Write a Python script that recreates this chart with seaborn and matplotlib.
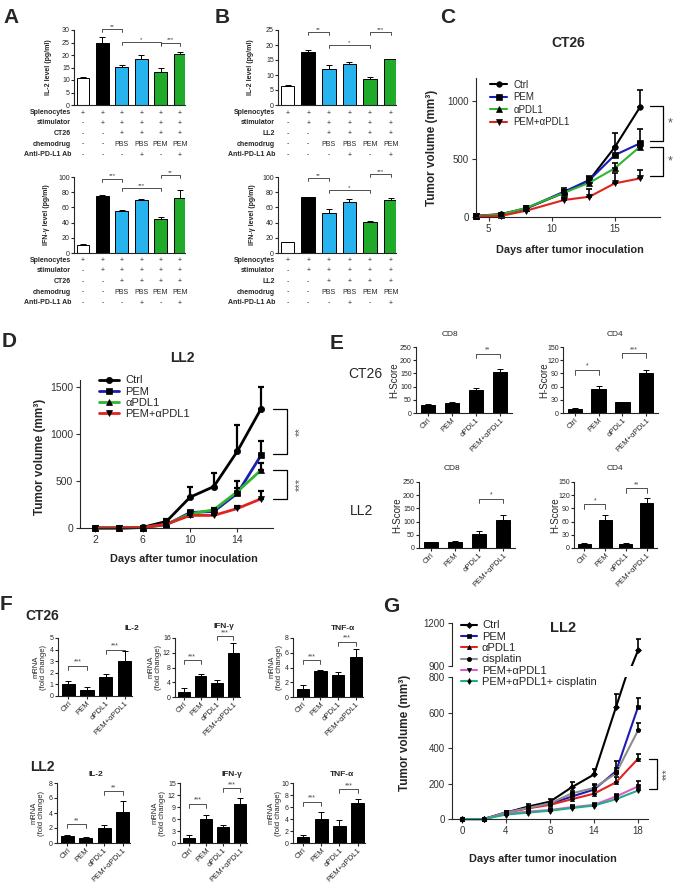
import numpy as np
import matplotlib
matplotlib.use("Agg")
import matplotlib.pyplot as plt
import matplotlib.transforms as mtransforms
import seaborn as sns

sns.set_style("ticks")
plt.rcParams["font.family"] = ["Liberation Sans", "DejaVu Sans"]
plt.rcParams["axes.linewidth"] = 0.8
plt.rcParams["xtick.major.width"] = 0.8
plt.rcParams["ytick.major.width"] = 0.8
plt.rcParams["xtick.major.size"] = 2
plt.rcParams["ytick.major.size"] = 2

# ---------------- data ----------------
# A / B : cytokine release (ELISA), six culture conditions
elisa_groups = ["naive", "stim", "tumor+PBS", "tumor+PBS+aPDL1", "tumor+PEM", "tumor+PEM+aPDL1"]
elisa_colors = ["white", "black", "#27b4ee", "#27b4ee", "#1faa2a", "#1faa2a"]
a_il2 = [10.7, 25.0, 15.4, 18.4, 13.4, 20.6]
a_il2_err = [0.4, 2.1, 0.6, 1.8, 1.4, 0.7]
a_ifn = [11.0, 74.8, 55.0, 69.5, 45.0, 73.0]
a_ifn_err = [0.5, 2.0, 1.5, 2.0, 1.8, 10.5]
b_il2 = [6.3, 17.8, 12.0, 13.7, 8.7, 15.2]
b_il2_err = [0.4, 0.5, 1.4, 0.6, 0.5, 0.3]
b_ifn = [14.0, 73.5, 52.2, 67.7, 40.3, 69.9]
b_ifn_err = [0.5, 0.8, 5.3, 4.0, 1.3, 2.7]

rows_ct26 = ["Splenocytes", "stimulator", "CT26", "chemodrug", "Anti-PD-L1 Ab"]
rows_ll2 = ["Splenocytes", "stimulator", "LL2", "chemodrug", "Anti-PD-L1 Ab"]
table_marks = [
    ["+", "+", "+", "+", "+", "+"],
    ["-", "+", "+", "+", "+", "+"],
    ["-", "-", "+", "+", "+", "+"],
    ["-", "-", "PBS", "PBS", "PEM", "PEM"],
    ["-", "-", "-", "+", "-", "+"],
]

# significance: (bar i, bar j, height, label)
a_il2_sig = [(1, 2, 30.3, "**"), (2, 4, 25.3, "*"), (4, 5, 25.0, "***")]
a_ifn_sig = [(1, 2, 98, "***"), (2, 4, 86, "***"), (4, 5, 103, "**")]
b_il2_sig = [(1, 2, 24.4, "**"), (2, 4, 20.1, "*"), (4, 5, 24.4, "***")]
b_ifn_sig = [(1, 2, 98.7, "**"), (2, 4, 82.3, "*"), (4, 5, 104, "***")]

# C : CT26 tumor growth
c_days = [4, 6, 8, 11, 13, 15, 17]
c_names = ["Ctrl", "PEM", "\u03b1PDL1", "PEM+\u03b1PDL1"]
c_vals = [[9, 26, 75, 210, 319, 601, 946],
          [9, 20, 75, 220, 319, 534, 635],
          [9, 22, 80, 210, 296, 420, 606],
          [5, 9, 55, 147, 175, 290, 333]]
c_errs = [[5, 10, 15, 25, 30, 126, 154],
          [5, 8, 15, 30, 35, 60, 121],
          [5, 8, 12, 20, 25, 48, 40],
          [3, 5, 10, 15, 64, 86, 72]]
c_sig = [(957, 658, "*"), (606, 353, "*")]

# D : LL2 tumor growth
d_days = [2, 4, 6, 8, 10, 12, 14, 16]
d_vals = [[0, 0, 7, 70, 328, 441, 819, 1271],
          [0, 0, 5, 35, 165, 176, 370, 776],
          [0, 0, 5, 40, 151, 194, 388, 618],
          [0, 0, 5, 40, 134, 134, 208, 311]]
d_errs = [[0, 0, 5, 30, 113, 148, 275, 229],
          [0, 0, 3, 10, 20, 30, 131, 149],
          [0, 0, 3, 10, 15, 20, 40, 71],
          [0, 0, 3, 10, 15, 15, 30, 78]]
d_sig = [(1271, 784, "**"), (618, 311, "***")]

# E : IHC H-score
treat = ["Ctrl", "PEM", "\u03b1PDL1", "PEM+\u03b1PDL1"]
e_ct26_cd8 = [29, 38, 86, 154]
e_ct26_cd8_err = [5, 5, 10, 14]
e_ct26_cd4 = [9, 55, 24, 92]
e_ct26_cd4_err = [2, 6, 2, 5]
e_ll2_cd8 = [23, 23, 54, 105]
e_ll2_cd8_err = [1, 2, 10, 19]
e_ll2_cd4 = [10, 64, 10, 102]
e_ll2_cd4_err = [1, 10, 1, 11]
e_ct26_cd8_sig = [(2, 3, 225, "**")]
e_ct26_cd4_sig = [(0, 1, 98, "*"), (2, 3, 136, "***")]
e_ll2_cd8_sig = [(2, 3, 187, "*")]
e_ll2_cd4_sig = [(0, 1, 99, "*"), (2, 3, 136, "**")]

# F : qPCR fold change
f_ct26_il2 = [1.0, 0.55, 1.68, 2.98]
f_ct26_il2_err = [0.3, 0.25, 0.2, 0.86]
f_ct26_ifn = [1.4, 5.7, 3.7, 11.9]
f_ct26_ifn_err = [1.0, 0.6, 1.0, 2.7]
f_ct26_tnf = [1.1, 3.55, 2.95, 5.45]
f_ct26_tnf_err = [0.55, 0.1, 0.5, 1.1]
f_ll2_il2 = [1.0, 0.68, 2.0, 4.2]
f_ll2_il2_err = [0.07, 0.12, 0.44, 1.4]
f_ll2_ifn = [1.2, 6.0, 4.0, 9.8]
f_ll2_ifn_err = [0.9, 1.1, 0.6, 1.45]
f_ll2_tnf = [1.0, 4.0, 2.9, 6.7]
f_ll2_tnf_err = [0.4, 1.1, 1.0, 0.7]
f_ct26_il2_sig = [(0, 1, 2.6, "***"), (2, 3, 4.0, "***")]
f_ct26_ifn_sig = [(0, 1, 10.0, "***"), (2, 3, 16.5, "***")]
f_ct26_tnf_sig = [(0, 1, 5.0, "***"), (2, 3, 7.5, "***")]
f_ll2_il2_sig = [(0, 1, 2.5, "**"), (2, 3, 6.9, "**")]
f_ll2_ifn_sig = [(0, 1, 9.8, "***"), (2, 3, 13.75, "***")]
f_ll2_tnf_sig = [(0, 1, 6.9, "***"), (2, 3, 9.0, "***")]

# G : LL2 growth with cisplatin
g_days = [0, 2, 4, 6, 8, 11, 14, 16, 18]
g_names = ["Ctrl", "PEM", "\u03b1PDL1", "cisplatin", "PEM+\u03b1PDL1", "PEM+\u03b1PDL1+ cisplatin"]
g_vals = [[0, 0, 36, 70, 98, 180, 251, 632, 1010],
          [0, 0, 38, 62, 86, 127, 166, 270, 632],
          [0, 0, 35, 60, 80, 112, 143, 207, 340],
          [0, 0, 36, 62, 88, 145, 175, 258, 500],
          [0, 0, 30, 42, 51, 67, 80, 127, 184],
          [0, 0, 25, 36, 47, 62, 76, 112, 161]]
g_errs = [[0, 0, 10, 12, 15, 30, 30, 70, 80],
          [0, 0, 8, 10, 12, 20, 25, 55, 50],
          [0, 0, 6, 8, 10, 18, 20, 30, 28],
          [0, 0, 6, 8, 10, 15, 20, 30, 40],
          [0, 0, 5, 6, 8, 10, 10, 15, 33],
          [0, 0, 4, 5, 6, 8, 8, 10, 15]]
g_sig = [(337, 170, "***")]

# ---------------- helpers ----------------
W, H = 676, 892
fig = plt.figure(figsize=(W / 100, H / 100), dpi=100)


def box(x0, y0, x1, y1):
    return fig.add_axes([x0 / W, 1 - y1 / H, (x1 - x0) / W, (y1 - y0) / H])


def ftext(px, py, s, **kw):
    return fig.text(px / W, 1 - py / H, s, **kw)


def sig_bars(ax, sigs, drop, fs=5, lw=0.6):
    for i, j, h, txt in sigs:
        ax.plot([i, i, j, j], [h - drop, h, h, h - drop], color="#333333", lw=lw, clip_on=False)
        ax.text((i + j) / 2, h, txt, ha="center", va="bottom", fontsize=fs, color="#444444", clip_on=False)


def bar_panel(ax, groups, vals, errs, colors, ylim, yticks, width, cap, fs):
    sns.barplot(x=groups, y=vals, hue=groups, palette=colors, edgecolor="black", linewidth=0.7,
                width=width, errorbar=None, legend=False, saturation=1, ax=ax)
    ax.errorbar(np.arange(len(vals)), vals, yerr=[np.zeros(len(errs)), errs], fmt="none",
                ecolor="black", elinewidth=0.7, capsize=cap, capthick=0.7, zorder=3)
    ax.set_ylim(*ylim)
    ax.set_yticks(yticks)
    ax.tick_params(labelsize=fs, length=2, pad=1)
    ax.set_xlabel("")
    ax.set_ylabel("")
    sns.despine(ax=ax)


def table(ax, rows, ys, label_px, fs=5):
    tr = mtransforms.blended_transform_factory(ax.transData, fig.transFigure)
    for name, row, py in zip(rows, table_marks, ys):
        ftext(label_px, py, name, ha="right", va="center", fontsize=fs, weight="bold")
        for i, m in enumerate(row):
            ax.text(i, 1 - py / H, m, transform=tr, ha="center", va="center", fontsize=fs, clip_on=False)


def elisa(ax, vals, errs, ylim, yticks, sigs, rows, ys, label_px):
    bar_panel(ax, elisa_groups, vals, errs, elisa_colors, ylim, yticks, 0.66, 2, 5)
    ax.set_xlim(-0.47, 5.26)
    ax.set_xticks([])
    sig_bars(ax, sigs, drop=ylim[1] * 0.04, fs=4.5)
    table(ax, rows, ys, label_px)


def small_bars(ax, vals, errs, ylim, yticks, sigs, xlim=(-0.5, 3.5), width=0.62):
    bar_panel(ax, treat, vals, errs, ["black"] * 4, ylim, yticks, width, 2, 5)
    ax.set_xlim(*xlim)
    plt.setp(ax.get_xticklabels(), rotation=45, ha="right", rotation_mode="anchor", fontsize=5.5)
    sig_bars(ax, sigs, drop=ylim[1] * 0.07, fs=5)


def growth(ax, x, series, errs, names, colors, markers, ms, lw, cap, clip=False, legend=True):
    for vals, err, name, col, mk in zip(series, errs, names, colors, markers):
        sns.lineplot(x=x, y=vals, color=col, lw=lw, marker=mk, markersize=ms,
                     markerfacecolor="black", markeredgecolor="black", markeredgewidth=0.5,
                     label=name if legend else "_nolegend_", errorbar=None, clip_on=clip, ax=ax)
        ax.errorbar(x, vals, yerr=[np.zeros(len(err)), err], fmt="none", ecolor="black",
                    elinewidth=lw * 0.8, capsize=cap, capthick=lw * 0.8, clip_on=clip, zorder=3)
    ax.set_xlabel("")
    ax.set_ylabel("")


def vbracket(ax, y1, y2, x, tick, txt, tx, fs, rot=0):
    ax.plot([x - tick, x, x, x - tick], [y1, y1, y2, y2], color="black", lw=0.9, clip_on=False)
    ax.text(tx, (y1 + y2) / 2, txt, rotation=rot, ha="center", va="center", fontsize=fs,
            color="#555555", clip_on=False)


# ---------------- A ----------------
ftext(3, 23, "A", fontsize=15, weight="bold")
ax = box(74, 30, 185, 105)
elisa(ax, a_il2, a_il2_err, (0, 30), range(0, 31, 5), a_il2_sig, rows_ct26, [113, 123, 133.5, 144, 155], 71)
ftext(49, 67, "IL-2 level (pg/ml)", rotation=90, ha="center", va="center", fontsize=5, weight="bold")
ax = box(74, 177, 185, 253)
elisa(ax, a_ifn, a_ifn_err, (0, 100), range(0, 101, 20), a_ifn_sig, rows_ct26, [260.5, 271, 281.5, 292, 303], 71)
ftext(47, 215, "IFN-\u03b3 level (pg/ml)", rotation=90, ha="center", va="center", fontsize=5, weight="bold")

# ---------------- B ----------------
ftext(215, 23, "B", fontsize=15, weight="bold")
ax = box(278, 30, 396, 105)
elisa(ax, b_il2, b_il2_err, (0, 25), range(0, 26, 5), b_il2_sig, rows_ll2, [113, 123, 133.5, 144, 155], 275)
ftext(251, 67, "IL-2 level (pg/ml)", rotation=90, ha="center", va="center", fontsize=5, weight="bold")
ax = box(278, 177, 396, 253)
elisa(ax, b_ifn, b_ifn_err, (0, 100), range(0, 101, 20), b_ifn_sig, rows_ll2, [260.5, 271, 281.5, 292, 303], 275)
ftext(253, 215, "IFN-\u03b3 level (pg/ml)", rotation=90, ha="center", va="center", fontsize=5, weight="bold")

# ---------------- C ----------------
tumor_colors4 = ["black", "#1c1cb4", "#2fb52f", "#e0231d"]
tumor_markers4 = ["o", "s", "^", "v"]
ftext(440, 23, "C", fontsize=15, weight="bold")
ax = box(476, 78, 660, 217)
growth(ax, c_days, c_vals, c_errs, c_names, tumor_colors4, tumor_markers4, 4, 1.5, 2.5)
ax.set_xlim(4, 18.6)
ax.set_ylim(0, 1200)
ax.set_xticks([5, 10, 15])
ax.set_yticks([0, 500, 1000])
ax.tick_params(labelsize=7, length=3, pad=2, colors="#333333")
sns.despine(ax=ax)
ax.legend(loc="upper left", bbox_to_anchor=(486 / W, 1 - 76 / H), bbox_transform=fig.transFigure,
          frameon=False, fontsize=7, handlelength=1.8, handletextpad=0.6, labelspacing=0.25, borderaxespad=0)
for y1, y2, s in c_sig:
    vbracket(ax, y1, y2, 18.8, 1.0, s, 19.4, 9)
ftext(568, 47, "CT26", ha="center", fontsize=10, weight="bold")
ftext(432, 148, "Tumor volume (mm\u00b3)", rotation=90, ha="center", va="center", fontsize=8.5, weight="bold")
ftext(570, 253, "Days after tumor inoculation", ha="center", fontsize=7.8, weight="bold")

# ---------------- D ----------------
ftext(2, 347, "D", fontsize=15, weight="bold")
ax = box(80, 380, 273, 528)
growth(ax, d_days, d_vals, d_errs, c_names, tumor_colors4, tumor_markers4, 4.5, 2, 2.5)
ax.set_xlim(0.7, 17)
ax.set_ylim(0, 1575)
ax.set_xticks([2, 6, 10, 14])
ax.set_yticks([0, 500, 1000, 1500])
ax.tick_params(labelsize=7.5, length=3, pad=2, colors="#333333")
sns.despine(ax=ax)
ax.legend(loc="upper left", bbox_to_anchor=(95 / W, 1 - 371 / H), bbox_transform=fig.transFigure,
          frameon=False, fontsize=8, handlelength=1.8, handletextpad=0.5, labelspacing=0.1, borderaxespad=0)
for y1, y2, s in d_sig:
    vbracket(ax, y1, y2, 18.17, 1.17, s, 19.3, 8, rot=90)
ftext(182, 362, "LL2", ha="center", fontsize=10, weight="bold")
ftext(40, 457, "Tumor volume (mm\u00b3)", rotation=90, ha="center", va="center", fontsize=8.5, weight="bold")
ftext(184, 562, "Days after tumor inoculation", ha="center", fontsize=7.8, weight="bold")

# ---------------- E ----------------
ftext(330, 349, "E", fontsize=15, weight="bold")
ftext(348, 378, "CT26", fontsize=10)
ftext(350, 515, "LL2", fontsize=10)
e_specs = [
    ((416, 347, 512, 413), e_ct26_cd8, e_ct26_cd8_err, (0, 250), range(0, 251, 50), e_ct26_cd8_sig, "CD8", 450, 336, 394, 380),
    ((563, 347, 658, 413), e_ct26_cd4, e_ct26_cd4_err, (0, 150), range(0, 151, 30), e_ct26_cd4_sig, "CD4", 615, 336, 544, 380),
    ((419, 482, 515, 548), e_ll2_cd8, e_ll2_cd8_err, (0, 250), range(0, 251, 50), e_ll2_cd8_sig, "CD8", 452, 470, 397, 515),
    ((574, 482, 657, 548), e_ll2_cd4, e_ll2_cd4_err, (0, 150), range(0, 151, 30), e_ll2_cd4_sig, "CD4", 615, 470, 555, 515),
]
for bx, vals, errs, ylim, yt, sigs, title, tx, ty, lx, ly in e_specs:
    ax = box(*bx)
    small_bars(ax, vals, errs, ylim, yt, sigs)
    ftext(tx, ty, title, ha="center", fontsize=6)
    ftext(lx, ly, "H-Score", rotation=90, ha="center", va="center", fontsize=7)

# ---------------- F ----------------
ftext(0, 610, "F", fontsize=15, weight="bold")
ftext(25, 620, "CT26", fontsize=10, weight="bold")
ftext(30, 771, "LL2", fontsize=10, weight="bold")
f_specs = [
    ((58, 638, 132, 696), f_ct26_il2, f_ct26_il2_err, (0, 5), range(0, 6), f_ct26_il2_sig, "IL-2", 132, 630, 40, 667),
    ((175, 638, 240, 697), f_ct26_ifn, f_ct26_ifn_err, (0, 16), range(0, 17, 4), f_ct26_ifn_sig, "IFN-\u03b3", 224, 628, 155, 667),
    ((293, 638, 363, 697), f_ct26_tnf, f_ct26_tnf_err, (0, 8), range(0, 9, 2), f_ct26_tnf_sig, "TNF-\u03b1", 343, 630, 276, 667),
    ((57, 783, 130, 843), f_ll2_il2, f_ll2_il2_err, (0, 8), range(0, 9, 2), f_ll2_il2_sig, "IL-2", 96, 776, 38, 813),
    ((180, 783, 247, 843), f_ll2_ifn, f_ll2_ifn_err, (0, 15), range(0, 16, 3), f_ll2_ifn_sig, "IFN-\u03b3", 232, 776, 159, 813),
    ((293, 783, 365, 843), f_ll2_tnf, f_ll2_tnf_err, (0, 10), range(0, 11, 2), f_ll2_tnf_sig, "TNF-\u03b1", 342, 776, 275, 813),
]
for bx, vals, errs, ylim, yt, sigs, title, tx, ty, lx, ly in f_specs:
    ax = box(*bx)
    small_bars(ax, vals, errs, ylim, yt, sigs, xlim=(-0.55, 3.4), width=0.7)
    ftext(tx, ty, title, ha="center", fontsize=6, weight="bold")
    ftext(lx, ly, "mRNA\n(fold change)", rotation=90, ha="center", va="center", fontsize=5.5, linespacing=1.0)

# ---------------- G ----------------
g_colors = ["black", "#1c1cb4", "#e0231d", "#8c8c8c", "#d65fc8", "#1fae8a"]
g_markers = ["D", "s", "^", "o", "v", "d"]
g_pos = np.arange(len(g_days))
ftext(383, 612, "G", fontsize=15, weight="bold")
ax_hi = box(452, 623, 648, 666)
ax_lo = box(452, 677, 648, 821.7)
growth(ax_hi, g_pos, g_vals, g_errs, g_names, g_colors, g_markers, 3, 1.5, 1.8, clip=True, legend=False)
growth(ax_lo, g_pos, g_vals, g_errs, g_names, g_colors, g_markers, 3, 1.5, 1.8, clip=True)
for a in (ax_hi, ax_lo):
    a.set_xlim(-0.45, 8.45)
    a.tick_params(labelsize=7, length=3, pad=2, colors="#333333")
ax_hi.set_ylim(900, 1200)
ax_hi.set_yticks([900, 1200])
ax_hi.set_xticks([])
sns.despine(ax=ax_hi, bottom=True)
ax_lo.set_ylim(-15, 800)
ax_lo.set_yticks(range(0, 801, 200))
ax_lo.set_xticks(g_pos[::2])
ax_lo.set_xticklabels([str(d) for d in g_days[::2]])
sns.despine(ax=ax_lo)
ax_lo.spines["bottom"].set_position(("data", 0))
ax_lo.spines["left"].set_bounds(0, 800)
ax_lo.legend(loc="upper left", bbox_to_anchor=(457 / W, 1 - 616 / H), bbox_transform=fig.transFigure,
             frameon=False, fontsize=8, handlelength=1.4, handletextpad=0.45, labelspacing=0.12, borderaxespad=0)
for y1, y2, s in g_sig:
    vbracket(ax_lo, y1, y2, 8.86, 0.36, s, 9.3, 7, rot=90)
ftext(563, 632, "LL2", ha="center", fontsize=10.5, weight="bold")
ftext(405, 733, "Tumor volume (mm\u00b3)", rotation=90, ha="center", va="center", fontsize=8.5, weight="bold")
ftext(543, 862, "Days after tumor inoculation", ha="center", fontsize=7.8, weight="bold")

fig.savefig("out.png", dpi=100)
